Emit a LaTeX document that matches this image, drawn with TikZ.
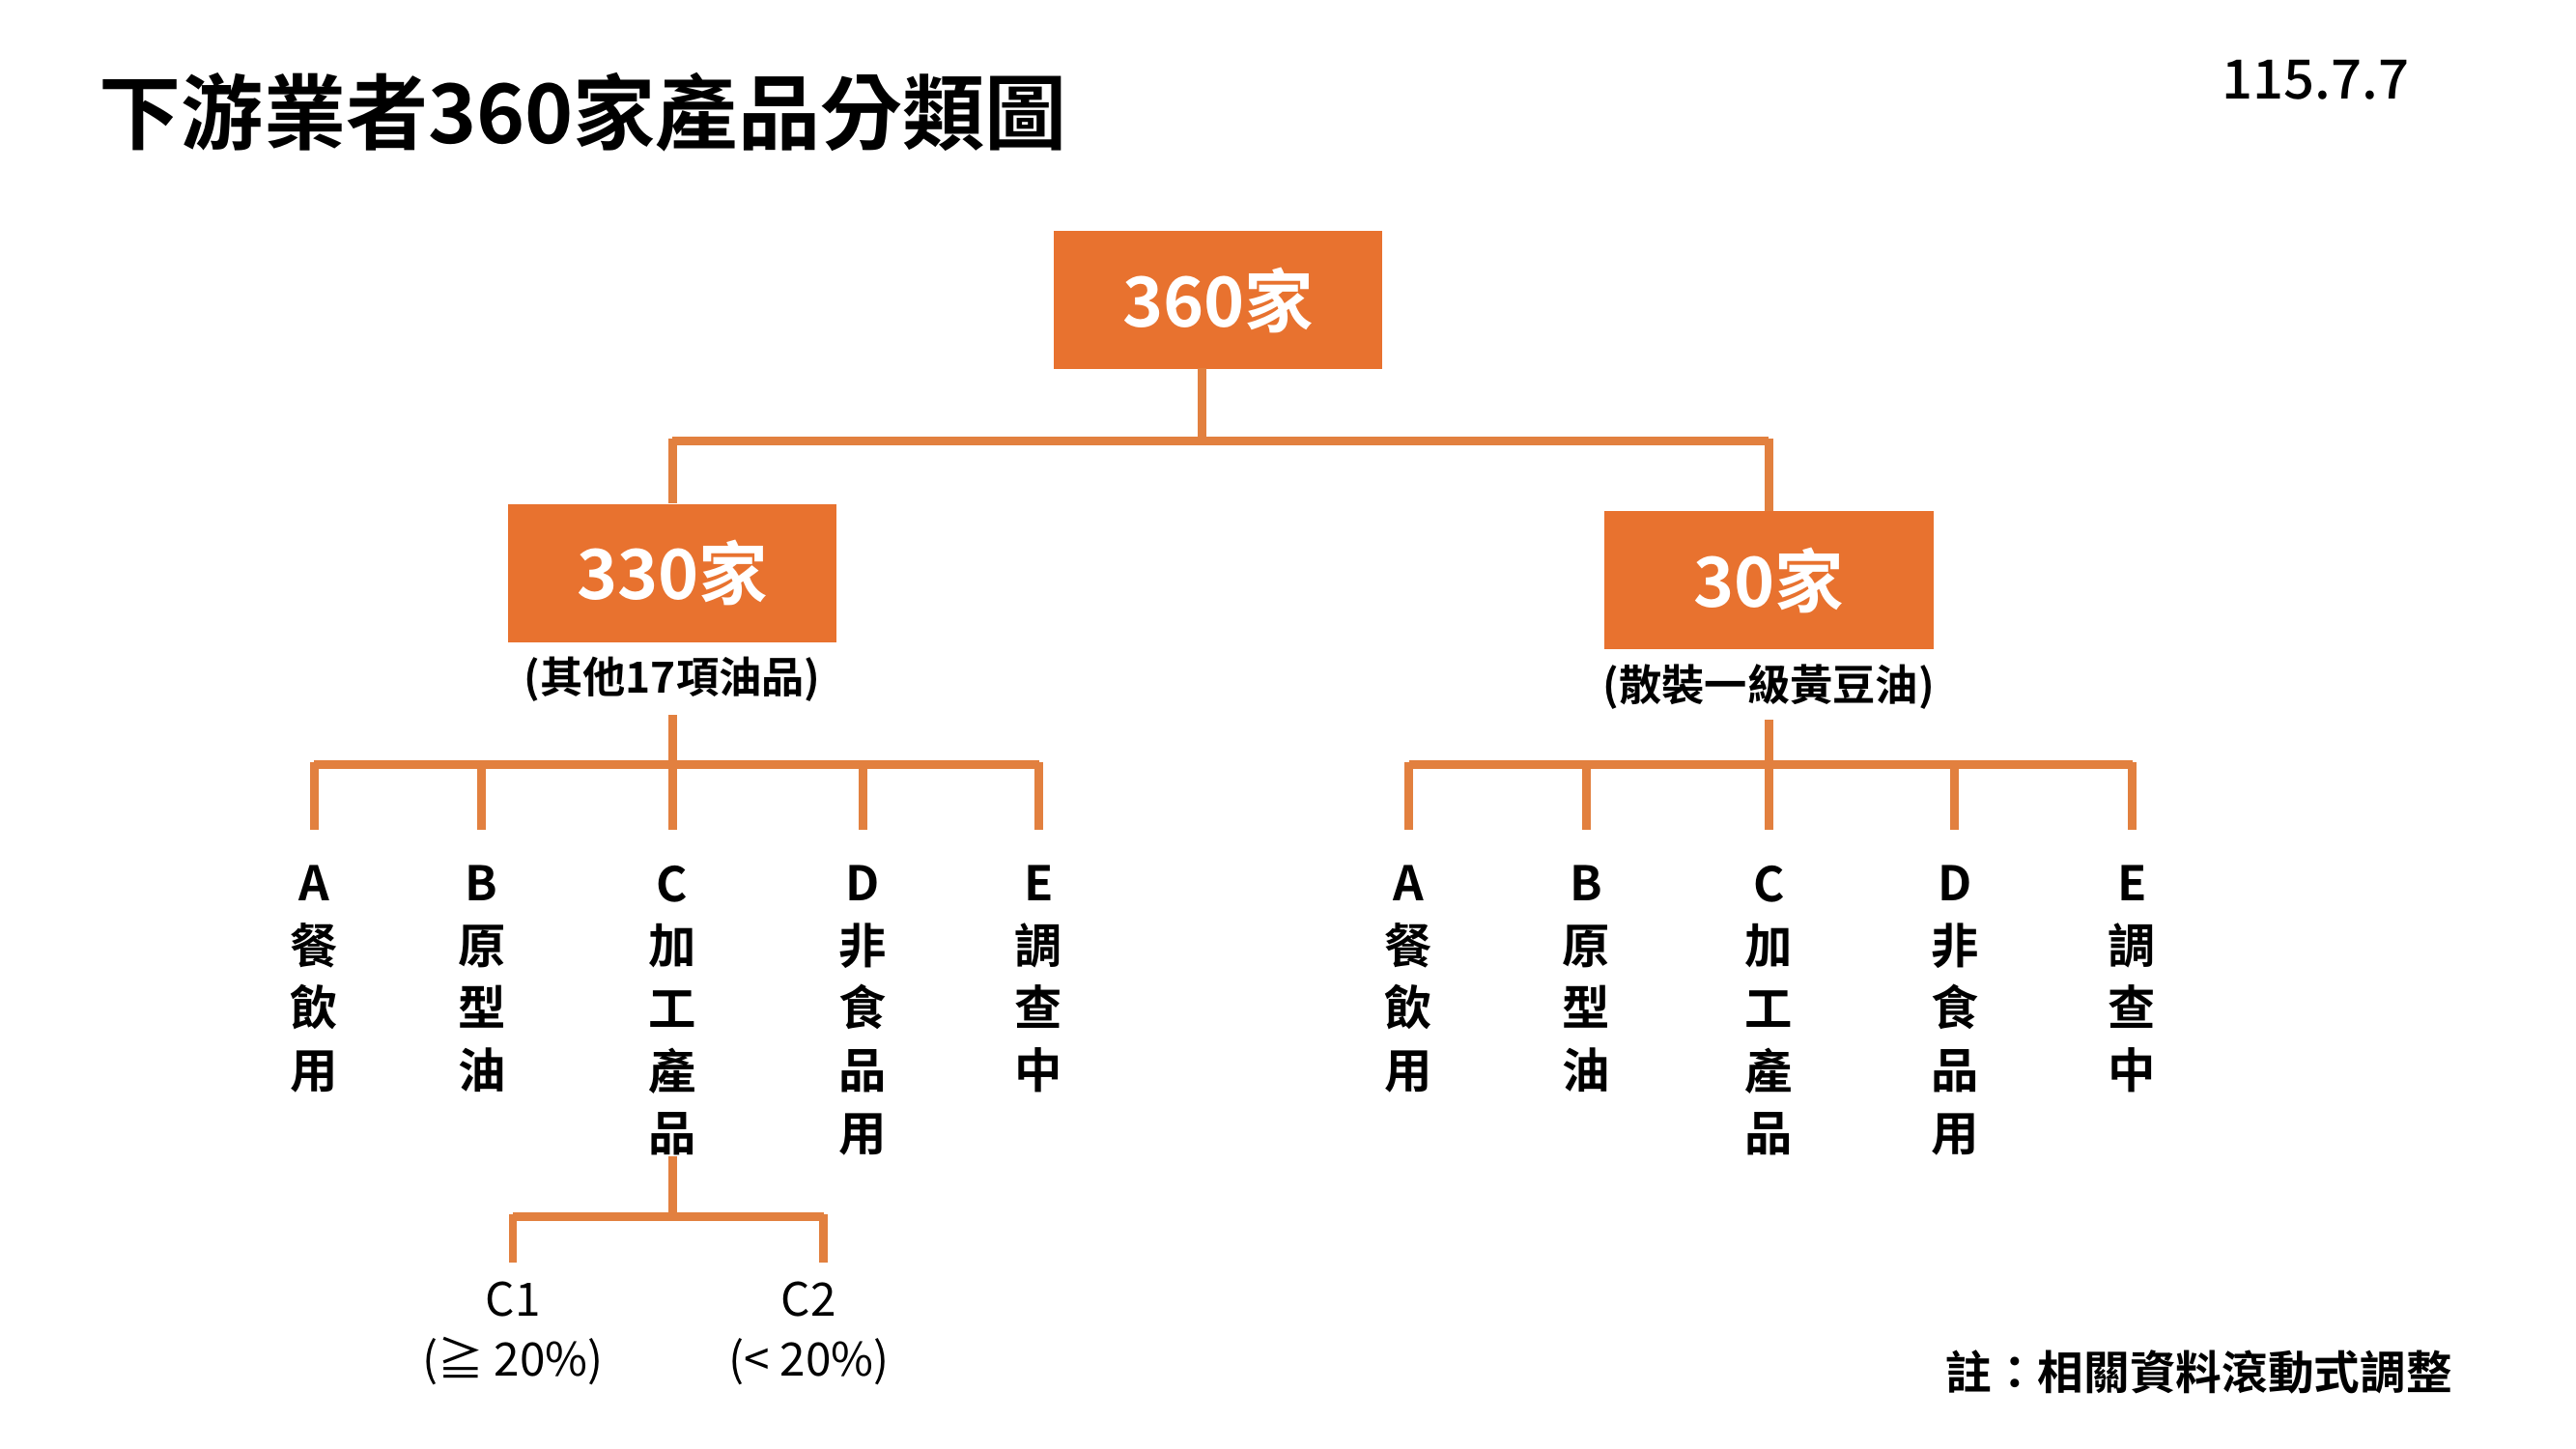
\documentclass[tikz,border=0pt]{standalone}
\usepackage{fontspec}
\setmainfont{Noto Sans CJK TC}[BoldFont={Noto Sans CJK TC Bold}]
\newfontfamily\medf{Noto Sans CJK TC Medium}
\begin{document}
\begin{tikzpicture}[x=0.5pt,y=-0.5pt,
  ln/.style={draw=lineO,line width=2.6pt},
  box/.style={fill=boxO,minimum width=100pt,minimum height=42pt,inner sep=0pt,text=white,font=\bfseries\fontsize{21}{24}\selectfont},
  sub/.style={font=\bfseries\fontsize{13}{15}\selectfont},
  col/.style={anchor=north,align=center,inner sep=0pt,font=\bfseries\fontsize{14.5}{19}\selectfont},
  cc/.style={align=center,inner sep=0pt,font=\fontsize{14}{18}\selectfont}]
\definecolor{lineO}{HTML}{E2803F}
\definecolor{boxO}{HTML}{E8722F}
\useasboundingbox (0,0) rectangle (1567,881);
\node[anchor=base west,inner sep=0pt,font=\bfseries\fontsize{25}{28}\selectfont] (title) at (60,87) {下游業者360家產品分類圖};
\node[anchor=base east,inner sep=0pt,font=\medf\fontsize{16.5}{18}\selectfont] (date) at (1466,60) {115.7.7};
\node[box] (r) at (741,182.5) {360家};
\node[box] (a) at (409,348.5) {330家};
\node[box] (b) at (1076,353) {30家};
\node[sub] (an) at (409,413) {(其他17項油品)};
\node[sub] (bn) at (1076,418) {(散裝一級黃豆油)};
\coordinate (rh) at (731,268);
\draw[ln] (731,224) -- (rh);
\draw[ln] (409,268) -- (1076,268);
\draw[ln] (409,266.7) -- (a.north);
\draw[ln] (1076,266.7) -- (b.north);
% left
\draw[ln] (409,435) -- (409,465);
\draw[ln] (191,465) -- (632,465);
\foreach \x/\n/\t in {191/la/A\\餐\\飲\\用,293/lb/B\\原\\型\\油,409/lc/C\\加\\工\\產\\品,525/ld/D\\非\\食\\品\\用,632/le/E\\調\\查\\中}{
  \draw[ln] (\x,463.7) -- (\x,505);
  \node[col] (\n) at (\x,526) {\t};
}
% right
\draw[ln] (1076,438) -- (1076,465);
\draw[ln] (857,465) -- (1297,465);
\foreach \x/\n/\t in {857/ra/A\\餐\\飲\\用,965/rb/B\\原\\型\\油,1076/rc/C\\加\\工\\產\\品,1189/rd/D\\非\\食\\品\\用,1297/re/E\\調\\查\\中}{
  \draw[ln] (\x,463.7) -- (\x,505);
  \node[col] (\n) at (\x,526) {\t};
}
% C sub
\draw[ln] (lc.south) -- (409,740);
\draw[ln] (312,740) -- (501,740);
\draw[ln] (312,738.7) -- (312,768);
\draw[ln] (501,738.7) -- (501,768);
\node[cc] (c1) at (312,811) {C1\\(≧ 20\%)};
\node[cc] (c2) at (492,811) {C2\\(< 20\%)};
\node[anchor=base east,inner sep=0pt,font=\bfseries\fontsize{14}{16}\selectfont] (note) at (1492,845) {註：相關資料滾動式調整};
\end{tikzpicture}
\end{document}
